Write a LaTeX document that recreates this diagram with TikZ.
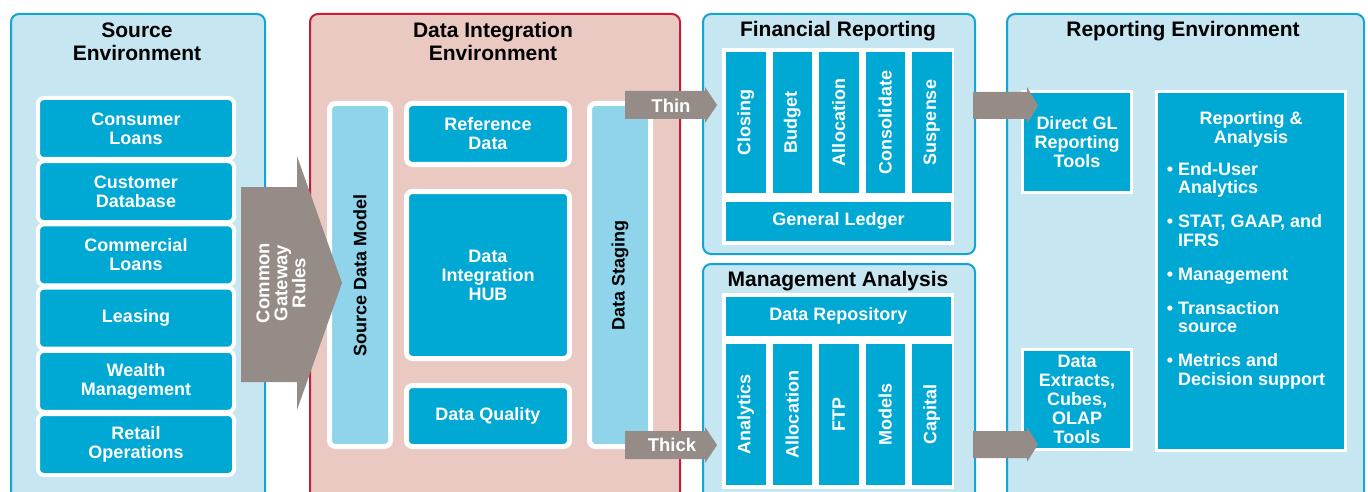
\documentclass[tikz,border=0pt]{standalone}
\usepackage{fontspec}
\setmainfont{Liberation Sans}
\usepackage{tikz}
\usetikzlibrary{positioning, calc}

\definecolor{panelfill}{HTML}{C6E6F1}
\definecolor{panelline}{HTML}{14A5D5}
\definecolor{boxblue}{HTML}{00A8D4}
\definecolor{lightcol}{HTML}{8FD4EB}
\definecolor{dipink}{HTML}{EBC9C3}
\definecolor{dired}{HTML}{C41E3A}
\definecolor{arrowgray}{HTML}{968C87}

\begin{document}
\begin{tikzpicture}[
    x=1pt, y=-1pt,
    % --- STYLES ---
    panel/.style={
        rectangle, rounded corners=8pt,
        draw=panelline, fill=panelfill,
        line width=2pt, anchor=north west,
        inner sep=0pt
    },
    dipanel/.style={panel, draw=dired, fill=dipink},
    title/.style={font=\fontsize{21}{23}\selectfont\bfseries, align=center, inner sep=0pt},
    boxtext/.style={font=\fontsize{18}{19}\selectfont\bfseries, text=white, align=center, inner sep=0pt},
    srcbox/.style={
        rectangle, rounded corners=6pt,
        fill=boxblue, draw=white, line width=4pt,
        boxtext, minimum width=196pt, minimum height=61pt,
        outer sep=0pt
    },
    dibox/.style={srcbox, line width=5pt, minimum width=163pt},
    stagebox/.style={dibox, fill=lightcol, text=black, minimum width=61pt, minimum height=343pt},
    frame/.style={rectangle, fill=white, anchor=north west, inner sep=0pt, minimum width=232pt},
    colbox/.style={
        rectangle, fill=boxblue, boxtext,
        minimum width=39.5pt, minimum height=141pt,
        outer sep=0pt
    },
    barbox/.style={colbox, minimum width=225pt, minimum height=38.5pt, anchor=north west},
    toolbox/.style={rectangle, fill=boxblue, draw=white, line width=3pt, boxtext},
    flow/.style={fill=arrowgray},
    flowtext/.style={boxtext, font=\fontsize{18.5}{18}\selectfont\bfseries}
]

\useasboundingbox (0,0) rectangle (1368,492);
\clip (0,0) rectangle (1368,492);

% ===== 1. SOURCE ENVIRONMENT =====
\node[panel, minimum width=254pt, minimum height=490pt] (src) at (10,13) {};
\node[title] (srctitle) at (137,41.5) {Source\\Environment};

\node[srcbox] (consumer) at (136,128.5) {Consumer\\Loans};
\node[srcbox, below=2.2pt of consumer] (customer) {Customer\\Database};
\node[srcbox, below=2.2pt of customer] (commercial) {Commercial\\Loans};
\node[srcbox, below=2.2pt of commercial] (leasing) {Leasing};
\node[srcbox, below=2.2pt of leasing] (wealth) {Wealth\\Management};
\node[srcbox, below=2.2pt of wealth] (retail) {Retail\\Operations};

% ===== 2. DATA INTEGRATION ENVIRONMENT =====
\node[dipanel, minimum width=370pt, minimum height=490pt] (di) at (309,13) {};
\node[title] (dititle) at (493,41.5) {Data Integration\\Environment};

\node[dibox, minimum height=167pt] (hub) at (488,275) {Data\\Integration\\HUB};
\node[dibox, above=27pt of hub] (refdata) {Reference\\Data};
\node[dibox, below=27pt of hub] (quality) {Data Quality};
\node[stagebox, left=16pt of hub] (sdm) {\rotatebox{90}{Source Data Model}};
\node[stagebox, right=20pt of hub] (staging) {\rotatebox{90}{Data Staging}};

% ===== 3. FINANCIAL REPORTING =====
\node[panel, minimum width=272pt, minimum height=240pt] (fin) at (702,13) {};
\node[title, anchor=base] (fintitle) at (838,37) {Financial Reporting};
\node[frame, minimum height=197pt] (finframe) at (722,48) {};

\node[colbox, anchor=north west] (closing) at (726,52) {\rotatebox{90}{Closing}};
\node[colbox, right=7pt of closing] (budget) {\rotatebox{90}{Budget}};
\node[colbox, right=7pt of budget] (finalloc) {\rotatebox{90}{Allocation}};
\node[colbox, right=7pt of finalloc] (consolidate) {\rotatebox{90}{Consolidate}};
\node[colbox, right=7pt of consolidate] (suspense) {\rotatebox{90}{Suspense}};
\node[barbox] (ledger) at (726,202) {General Ledger};

% ===== 4. MANAGEMENT ANALYSIS =====
\node[panel, minimum width=272pt, minimum height=240pt] (mgmt) at (702,263) {};
\node[title, anchor=base] (mgmttitle) at (838,286) {Management Analysis};
\node[frame, minimum height=196pt] (mgmtframe) at (722,293) {};

\node[barbox] (repo) at (726,297) {Data Repository};
\node[colbox, anchor=north west] (analytics) at (726,344) {\rotatebox{90}{Analytics}};
\node[colbox, right=7pt of analytics] (mgmtalloc) {\rotatebox{90}{Allocation}};
\node[colbox, right=7pt of mgmtalloc] (ftp) {\rotatebox{90}{FTP}};
\node[colbox, right=7pt of ftp] (models) {\rotatebox{90}{Models}};
\node[colbox, right=7pt of models] (capital) {\rotatebox{90}{Capital}};

% ===== 5. REPORTING ENVIRONMENT =====
\node[panel, minimum width=357pt, minimum height=490pt] (rep) at (1006,13) {};
\node[title, anchor=base] (reptitle) at (1183,37) {Reporting Environment};

\node[toolbox, minimum width=109pt, minimum height=101pt] (directgl) at (1077,142) {Direct GL\\Reporting\\Tools};
\node[toolbox, minimum width=109pt, minimum height=100pt] (extracts) at (1077,399.5) {Data\\Extracts,\\Cubes,\\OLAP\\Tools};
\node[toolbox, minimum width=189pt, minimum height=359pt] (analysis) at (1251,271) {};
\node[boxtext, anchor=north] (analysistitle) at (1251,111) {Reporting \&\\Analysis};
\node[boxtext, align=left, anchor=north west, font=\fontsize{18}{18.5}\selectfont\bfseries] (uses) at (1178,162) {%
    \llap{\textbullet\ }End-User\\Analytics\\[15.5pt]
    \llap{\textbullet\ }STAT, GAAP, and\\IFRS\\[15.5pt]
    \llap{\textbullet\ }Management\\[15.5pt]
    \llap{\textbullet\ }Transaction\\source\\[15.5pt]
    \llap{\textbullet\ }Metrics and\\Decision support};

% ===== 6. FLOW ARROWS =====
% Common gateway into the integration layer
\fill[flow] (241,187) -- (297,187) -- (297,156) -- (342,283) -- (297,410) -- (297,382) -- (241,382) -- cycle;
\node[flowtext, rotate=90] (gateway) at (281,283) {Common\\Gateway\\Rules};

% Staging out to reporting
\fill[flow] (625,91) -- (705,91) -- (705,87) -- (717,105) -- (705,123) -- (705,119) -- (625,119) -- cycle;
\node[flowtext] (thin) at (671,106) {Thin};
\fill[flow] (625,431) -- (705,431) -- (705,427) -- (717,445) -- (705,463) -- (705,459) -- (625,459) -- cycle;
\node[flowtext] (thick) at (672,445) {Thick};

% Into the reporting tools
\fill[flow] (973,92) -- (1027,92) -- (1027,87) -- (1038,105.5) -- (1027,124) -- (1027,119) -- (973,119) -- cycle;
\fill[flow] (973,431) -- (1027,431) -- (1027,427) -- (1038,444.5) -- (1027,462) -- (1027,458) -- (973,458) -- cycle;

\end{tikzpicture}
\end{document}
